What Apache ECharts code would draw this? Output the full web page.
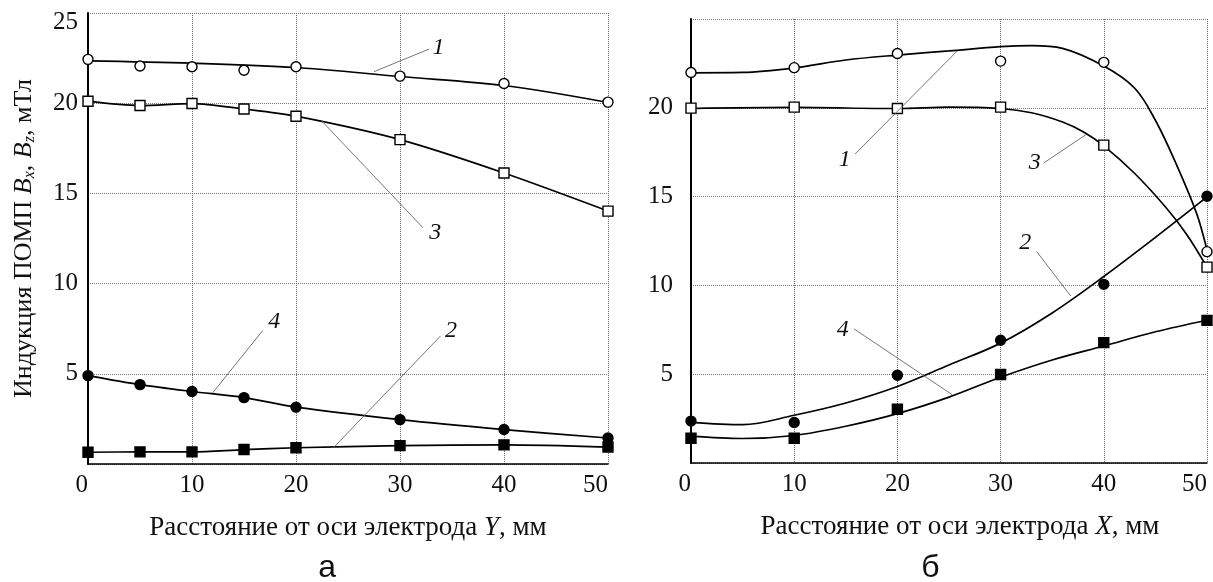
<!DOCTYPE html>
<html>
<head>
<meta charset="utf-8">
<script src="https://cdn.jsdelivr.net/npm/echarts@6/dist/echarts.min.js"></script>
<style>
html,body{margin:0;padding:0;background:#fff;}
#c{width:1213px;height:582px;}
</style>
</head>
<body>
<div id="c"></div>
<script>
// ---- data ----
const leftX = [0, 5, 10, 15, 20, 30, 40, 50];
const leftS1 = [22.43, 22.06, 22.02, 21.83, 22.02, 21.5, 21.09, 20.06];
const leftS2 = [0.65, 0.67, 0.67, 0.8, 0.9, 1.02, 1.06, 0.94];
const leftS3 = [20.11, 19.87, 19.98, 19.68, 19.28, 17.98, 16.13, 14.02];
const leftS4 = [4.9, 4.4, 4.02, 3.68, 3.15, 2.46, 1.91, 1.44];
const leftCurve1X = [0, 10, 20, 30, 40, 50];
const leftCurve1 = [22.35, 22.22, 21.98, 21.48, 20.98, 20.04];

const rightX = [0, 10, 20, 30, 40, 50];
const rightS1 = [21.99, 22.26, 23.06, 22.63, 22.56, 11.9];
const rightS2 = [2.36, 2.28, 4.94, 6.91, 10.06, 15.02];
const rightS3 = [19.98, 20.04, 19.96, 20.04, 17.9, 11.03];
const rightS4 = [1.39, 1.39, 3.03, 4.98, 6.78, 8.03];
const rightCurve1X = [0, 5, 10, 15, 20, 25, 30, 33, 36, 40, 43, 45, 47, 49, 50];
const rightCurve1 = [21.97, 21.99, 22.24, 22.69, 22.97, 23.2, 23.44, 23.5, 23.35, 22.35, 21.1, 19.3, 16.86, 14.04, 12.0];
const rightCurve2X = [0, 5, 10, 15, 20, 25, 30, 35, 40, 45, 50];
const rightCurve2 = [2.29, 2.16, 2.69, 3.38, 4.31, 5.52, 6.75, 8.45, 10.5, 12.7, 14.98];
const rightCurve3X = [0, 10, 20, 25, 30, 33, 36, 38, 40, 43, 46, 48, 50];
const rightCurve3 = [19.96, 20.02, 19.96, 20.04, 19.96, 19.72, 19.2, 18.65, 17.86, 16.3, 14.4, 12.9, 11.03];
const rightCurve4X = [0, 5, 10, 15, 20, 25, 30, 35, 40, 45, 50];
const rightCurve4 = [1.51, 1.38, 1.55, 2.07, 2.78, 3.71, 4.83, 5.8, 6.59, 7.39, 8.04];

const yTicksLeft = ['5', '10', '15', '20', '25'];
const yTicksRight = ['5', '10', '15', '20'];
const xTitleLeft = 'Расстояние от оси электрода {i|Y}, мм';
const xTitleRight = 'Расстояние от оси электрода {i|X}, мм';
const yTitle = 'Индукция ПОМП {i|B}{s|x}, {i|B}{s|z}, мТл';
const panelLabels = ['а', 'б'];

// annotation labels with leader lines (data coordinates)
const notes = [
  {g: 0, text: '1', at: [33.7, 23.1], from: [32.8, 23.0], to: [27.5, 21.75]},
  {g: 0, text: '3', at: [33.4, 12.8], from: [32.2, 13.1], to: [22.5, 19.0]},
  {g: 0, text: '4', at: [17.9, 7.9], from: [16.8, 7.4], to: [12.0, 3.95]},
  {g: 0, text: '2', at: [34.9, 7.4], from: [33.9, 7.1], to: [23.6, 0.9]},
  {g: 1, text: '1', at: [14.9, 17.1], from: [15.9, 17.4], to: [25.8, 23.2]},
  {g: 1, text: '3', at: [33.3, 16.9], from: [34.2, 16.9], to: [38.3, 18.5]},
  {g: 1, text: '2', at: [32.4, 12.4], from: [33.5, 11.9], to: [36.8, 9.4]},
  {g: 1, text: '4', at: [14.7, 7.5], from: [15.8, 7.55], to: [25.3, 3.85]}
];

const FONT = '"Liberation Serif", "Times New Roman", serif';
const pair = (xs, ys) => xs.map((x, i) => [x, ys[i]]);

function xAxisCfg(gi, title, padLeft) {
  return {
    gridIndex: gi, type: 'value', min: 0, max: 50, interval: 10,
    axisLine: {show: true, onZero: false, lineStyle: {color: '#000', width: 1.5}},
    axisTick: {show: false},
    axisLabel: {fontFamily: FONT, fontSize: 25, color: '#111', margin: 9,
      alignMinLabel: 'right', alignMaxLabel: 'right'},
    splitLine: {show: true, lineStyle: {color: '#666', type: 'dotted', width: 1}},
    name: title, nameLocation: 'middle', nameGap: 50,
    nameTextStyle: {fontFamily: FONT, fontSize: 27, color: '#111', padding: [0, 0, 0, padLeft],
      rich: {i: {fontFamily: FONT, fontSize: 27, fontStyle: 'italic', color: '#111'}}}
  };
}
function yAxisCfg(gi, ticks, margin, withName) {
  const c = {
    gridIndex: gi, type: 'value', min: 0, max: 25, interval: 5,
    axisLine: {show: true, onZero: false, lineStyle: {color: '#000', width: 2}},
    axisTick: {show: false},
    axisLabel: {fontFamily: FONT, fontSize: 25, color: '#111', margin: margin,
      formatter: v => ticks.indexOf(String(v)) < 0 ? '' : (v === 25 ? '{t|' + v + '}' : String(v)),
      rich: {t: {fontFamily: FONT, fontSize: 25, color: '#111', padding: [18, 0, 0, 0]}}},
    splitLine: {show: true, lineStyle: {color: '#777', type: 'dotted', width: 1}}
  };
  if (withName) {
    Object.assign(c, {
      name: yTitle, nameLocation: 'middle', nameGap: 50, nameRotate: 90,
      nameTextStyle: {fontFamily: FONT, fontSize: 26, color: '#111',
        rich: {
          i: {fontFamily: FONT, fontSize: 26, fontStyle: 'italic', color: '#111'},
          s: {fontFamily: FONT, fontSize: 16, fontStyle: 'italic', color: '#111', padding: [12, 0, 0, 0]}
        }}
    });
  }
  return c;
}

const lineStyle = {color: '#000', width: 1.7};
function curve(gi, data) {
  return {type: 'line', xAxisIndex: gi, yAxisIndex: gi, data: data, smooth: 0.35,
    showSymbol: false, symbol: 'none', lineStyle: lineStyle, z: 2, silent: true};
}
function marks(gi, data, symbol, filled) {
  return {type: 'scatter', xAxisIndex: gi, yAxisIndex: gi, data: data, symbol: symbol,
    symbolSize: 10, z: 3, silent: true,
    itemStyle: {color: filled ? '#000' : '#fff', borderColor: '#000', borderWidth: 1.4, opacity: 1}};
}
function lineWithMarks(gi, data, symbol, filled) {
  return {type: 'line', xAxisIndex: gi, yAxisIndex: gi, data: data, smooth: 0.3,
    symbol: symbol, symbolSize: 10, showSymbol: true, lineStyle: lineStyle, z: 3, silent: true,
    itemStyle: {color: filled ? '#000' : '#fff', borderColor: '#000', borderWidth: 1.4}};
}

const chart = echarts.init(document.getElementById('c'), null, {renderer: 'canvas'});
chart.setOption({
  animation: false,
  backgroundColor: '#fff',
  grid: [
    {left: 88, right: 605, top: 13, bottom: 118},
    {left: 691, right: 6, top: 19, bottom: 119}
  ],
  xAxis: [xAxisCfg(0, xTitleLeft, 0), xAxisCfg(1, xTitleRight, 22)],
  yAxis: [yAxisCfg(0, yTicksLeft, 10, true), yAxisCfg(1, yTicksRight, 18, false)],
  series: [
    curve(0, pair(leftCurve1X, leftCurve1)),
    marks(0, pair(leftX, leftS1), 'circle', false),
    lineWithMarks(0, pair(leftX, leftS3), 'rect', false),
    lineWithMarks(0, pair(leftX, leftS4), 'circle', true),
    lineWithMarks(0, pair(leftX, leftS2), 'rect', true),
    curve(1, pair(rightCurve1X, rightCurve1)),
    curve(1, pair(rightCurve2X, rightCurve2)),
    curve(1, pair(rightCurve3X, rightCurve3)),
    curve(1, pair(rightCurve4X, rightCurve4)),
    marks(1, pair(rightX, rightS1), 'circle', false),
    marks(1, pair(rightX, rightS3), 'rect', false),
    marks(1, pair(rightX, rightS2), 'circle', true),
    marks(1, pair(rightX, rightS4), 'rect', true)
  ]
});

const graphics = [];
notes.forEach(n => {
  const p = chart.convertToPixel({gridIndex: n.g}, n.at);
  const a = chart.convertToPixel({gridIndex: n.g}, n.from);
  const b = chart.convertToPixel({gridIndex: n.g}, n.to);
  graphics.push({type: 'line', shape: {x1: a[0], y1: a[1], x2: b[0], y2: b[1]},
    style: {stroke: '#666', lineWidth: 0.9}, z: 10});
  graphics.push({type: 'text', x: p[0], y: p[1], z: 11,
    style: {text: n.text, font: 'italic 24px ' + FONT, fill: '#111', align: 'center', verticalAlign: 'middle'}});
});
const la = chart.convertToPixel({gridIndex: 0}, [23, 0]);
const lb = chart.convertToPixel({gridIndex: 1}, [23.2, 0]);
graphics.push({type: 'text', x: la[0], y: 568, style: {text: panelLabels[0], font: '32px "Liberation Sans", Arial, sans-serif', fill: '#111', align: 'center', verticalAlign: 'middle'}});
graphics.push({type: 'text', x: lb[0], y: 568, style: {text: panelLabels[1], font: '32px "Liberation Sans", Arial, sans-serif', fill: '#111', align: 'center', verticalAlign: 'middle'}});
chart.setOption({graphic: graphics});
</script>
</body>
</html>
